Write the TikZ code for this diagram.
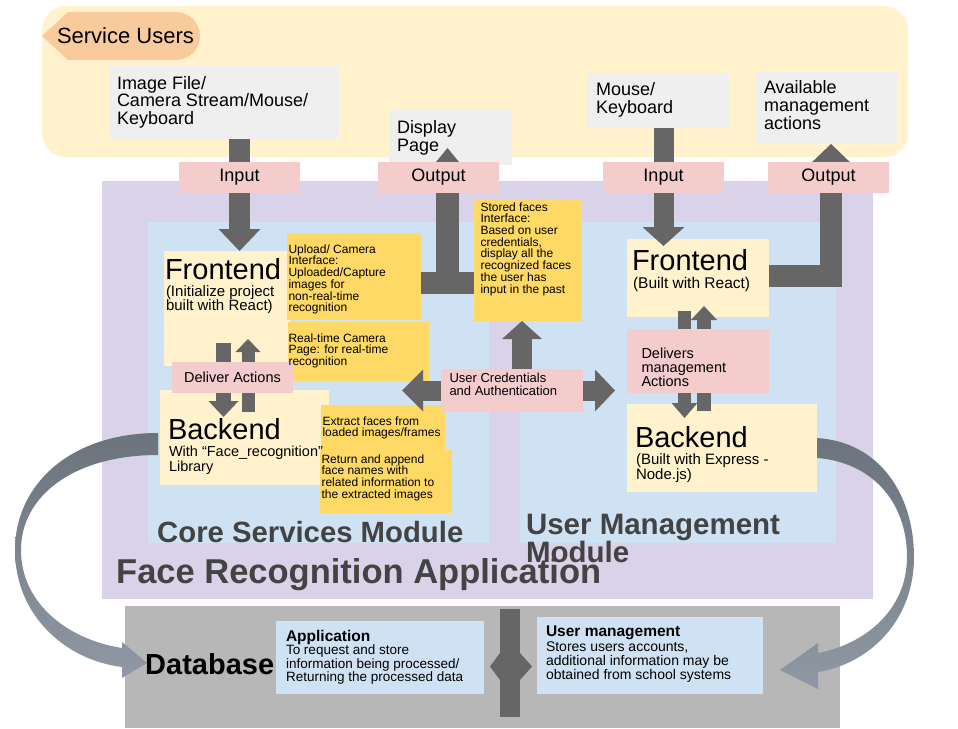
\documentclass[tikz,border=0pt]{standalone}
\usepackage{fontspec}
\setmainfont{Liberation Sans}
\usetikzlibrary{arrows.meta,calc}
\pgfdeclarelayer{bg}
\pgfdeclarelayer{mid}
\pgfsetlayers{bg,mid,main}
\definecolor{cCont}{HTML}{FFF2CC}
\definecolor{cTag}{HTML}{F9CB9C}
\definecolor{cGray}{HTML}{EFEFEF}
\definecolor{cPurple}{HTML}{D9D2E9}
\definecolor{cBlue}{HTML}{CFE2F3}
\definecolor{cPink}{HTML}{F4CCCC}
\definecolor{cLight}{HTML}{FFF2CC}
\definecolor{cGold}{HTML}{FFD966}
\definecolor{cDark}{HTML}{666666}
\definecolor{cDB}{HTML}{B7B7B7}
\definecolor{cTitle}{HTML}{434343}
\definecolor{cCurveA}{HTML}{6B737D}
\definecolor{cCurveB}{HTML}{8F98A4}
\newcommand\fsz[2]{\fontsize{#1}{#2}\selectfont}
\newcommand\bx[7]{\node[#2,anchor=north west,inner sep=0pt,outer sep=0pt,minimum width=#5pt,minimum height=#6pt] (#1) at (#3,#4) {#7};}
\begin{document}
\begin{tikzpicture}[x=1pt,y=-1pt,
  tx/.style={anchor=north west,inner sep=0pt,outer sep=0pt,align=left},
  lbl/.style={fill=cPink,font=\fsz{18}{20}},
  blk/.style={draw=cDark,line width=#1},
  curve/.style={top color=cCurveA,bottom color=cCurveB,draw=none}]
\useasboundingbox (0,0) rectangle (958,728);

% ---------- background boxes ----------
\begin{pgfonlayer}{bg}
\node[fill=cCont,rounded corners=24pt,anchor=north west,inner sep=0pt,minimum width=866pt,minimum height=151pt] (users) at (42,6) {};
\fill[cTag] (42,36) -- (68,12) -- (176,12) arc[start angle=-90,end angle=90,radius=24] -- (68,60) -- cycle;
\bx{imgbox}{fill=cGray}{109}{66}{230}{73}{}
\bx{dispbox}{fill=cGray}{389}{110}{123}{55}{}
\bx{mousebox}{fill=cGray}{587}{73}{142}{55}{}
\bx{availbox}{fill=cGray}{756}{71}{141}{73}{}
\bx{appl}{fill=cPurple}{102}{181}{771}{418}{}
\bx{core}{fill=cBlue}{148}{222}{341}{321}{}
\bx{umod}{fill=cBlue}{520}{222}{316}{321}{}
\bx{feL}{fill=cLight}{164}{251}{126}{115}{}
\bx{beL}{fill=cLight}{160}{390}{169}{95}{}
\bx{feR}{fill=cLight}{627}{239}{142}{78}{}
\bx{beR}{fill=cLight}{627}{404}{190}{88}{}
\bx{upl}{fill=cGold}{287}{233}{134}{87}{}
\bx{rtc}{fill=cGold}{288}{322}{141}{59}{}
\bx{stored}{fill=cGold}{474}{199}{108}{122}{}
\bx{extr}{fill=cGold}{321}{405}{124}{45}{}
\bx{retn}{fill=cGold}{320}{450}{132}{63}{}
\bx{db}{fill=cDB}{125}{606}{715}{122}{}
\bx{dbapp}{fill=cBlue}{276}{621}{208}{73}{}
\bx{dbum}{fill=cBlue}{537}{617}{226}{77}{}
\bx{dbbar}{fill=cDark}{500}{609}{20}{108}{}
\end{pgfonlayer}

% ---------- pink labels ----------
\bx{inL}{lbl}{179}{162}{121}{31}{Input}
\bx{outL}{lbl}{378}{162}{121}{31}{Output}
\bx{inR}{lbl}{603}{162}{121}{31}{Input}
\bx{outR}{lbl}{768}{162}{121}{31}{Output}
\bx{deliv}{fill=cPink,font=\fsz{14.5}{16}}{172}{362}{121}{31}{Deliver Actions}
\bx{cred}{fill=cPink}{441}{369}{142}{43}{}
\bx{delm}{fill=cPink}{627}{329}{142}{64}{}

% ---------- coordinates ----------
\coordinate (loY) at (0,283);
\coordinate (loBase) at (447.5,294);
\coordinate (dispTip) at (447.5,148);
\coordinate (roC) at (831,276);
\coordinate (dAtop) at (223.5,343);
\coordinate (dAbot) at (223.5,417);
\coordinate (uAbot) at (248,412);
\coordinate (uAtop) at (248,339);
\coordinate (dMtop) at (684.5,311);
\coordinate (dMbot) at (684.5,418);
\coordinate (uMbot) at (704,411);
\coordinate (uMtop) at (704,306);
\coordinate (upX) at (522,0);
\coordinate (credL) at (402,390.5);
\coordinate (credR) at (615,390.5);

% ---------- arrows ----------
\begin{pgfonlayer}{mid}
\draw[blk=21pt,-{Triangle[width=42pt,length=22pt,line width=0pt]}] (imgbox.south -| inL.center) -- (feL.north -| inL.center);
\draw[blk=20pt,-{Triangle[width=42pt,length=19pt,line width=0pt]}] (mousebox.south -| inR.center) -- ($(feR.north -| inR.center)+(0,7)$);
\draw[blk=22pt] (upl.east |- loY) -- (stored.west |- loY);
\draw[blk=23pt,-{Triangle[width=46pt,length=28pt,line width=0pt]}] (loBase) -- (dispTip);
\draw[blk=22pt,line join=miter,-{Triangle[width=44pt,length=21pt,line width=0pt]}] (feR.east |- roC) -- (roC) -- (availbox.south -| roC);
\draw[blk=15pt,-{Triangle[width=30pt,length=16pt,line width=0pt]}] (dAtop) -- (dAbot);
\draw[blk=13pt,-{Triangle[width=25pt,length=13pt,line width=0pt]}] (uAbot) -- (uAtop);
\draw[blk=13pt,-{Triangle[width=26pt,length=15pt,line width=0pt]}] (dMtop) -- (dMbot);
\draw[blk=14pt,-{Triangle[width=26pt,length=14pt,line width=0pt]}] (uMbot) -- (uMtop);
\draw[blk=20pt,-{Triangle[width=40pt,length=18pt,line width=0pt]}] (cred.north -| upX) -- (stored.south -| upX);
\draw[blk=20pt,-{Triangle[width=42pt,length=21pt,line width=0pt]}] (cred.west) -- (credL);
\draw[blk=20pt,-{Triangle[width=42pt,length=20pt,line width=0pt]}] (cred.east) -- (credR);
% database double arrow
\fill[cDark] (490,666.5) -- (500,653) -- (520,653) -- (532,666.5) -- (520,680) -- (500,680) -- cycle;
% curved arrows
\path[curve] (158,433) .. controls (70,433) and (15,485) .. (15,550)
  .. controls (15,615) and (65,660) .. (122,667) -- (122,678) -- (147,663) -- (122,642) -- (122,648)
  .. controls (70,640) and (21,605) .. (21,550) .. controls (21,495) and (75,455) .. (158,455) -- cycle;
\path[curve] (817,438) .. controls (880,442) and (914,495) .. (914,557)
  .. controls (914,622) and (868,664) .. (818,672) -- (818,689) -- (780,670) -- (818,643) -- (818,653)
  .. controls (862,645) and (907,612) .. (907,557) .. controls (907,500) and (870,462) .. (817,458) -- cycle;
\end{pgfonlayer}

% ---------- texts ----------
\node[tx,font=\fsz{22}{26},anchor=west] (tUsers) at (57,36) {Service Users};
\node[tx,font=\fsz{18}{17.5}] (tImg) at (117,76) {Image File/\\Camera Stream/Mouse/\\Keyboard};
\node[tx,font=\fsz{18}{18}] (tDisp) at (397,120.5) {Display\\Page};
\node[tx,font=\fsz{18}{18.3}] (tMouse) at (596,82.5) {Mouse/\\Keyboard};
\node[tx,font=\fsz{18}{18}] (tAvail) at (764,80.5) {Available\\management\\actions};

\node[tx,font=\fsz{29}{30}] (tFeL) at (165,258.5) {Frontend};
\node[tx,font=\fsz{15}{14}] (tFeLs) at (166,286) {(Initialize project\\built with React)};
\node[tx,font=\fsz{29}{30}] (tBeL) at (168,418.5) {Backend};
\node[tx,font=\fsz{14.5}{13}] (tBeLs) at (169,446) {With “Face\_recognition”\\Library};
\node[tx,font=\fsz{29}{30}] (tFeR) at (632,249.5) {Frontend};
\node[tx,font=\fsz{15.5}{15}] (tFeRs) at (633,277) {(Built with React)};
\node[tx,font=\fsz{29}{30}] (tBeR) at (635,426.5) {Backend};
\node[tx,font=\fsz{15}{15}] (tBeRs) at (636,453.5) {(Built with Express -\\Node.js)};

\node[tx,font=\fsz{12}{11.7}] (tUpl) at (288.5,244.5) {Upload/ Camera\\Interface:\\Uploaded/Capture\\images for\\non-real-time\\recognition};
\node[tx,font=\fsz{12}{11.7}] (tRtc) at (288.5,333.5) {Real-time Camera\\Page: for real-time\\recognition};
\node[tx,font=\fsz{12}{11.7}] (tSto) at (480.5,202.5) {Stored faces\\Interface:\\Based on user\\credentials,\\display all the\\recognized faces\\the user has\\input in the past};
\node[tx,font=\fsz{12}{11.7}] (tExt) at (322.5,416.5) {Extract faces from\\loaded images/frames};
\node[tx,font=\fsz{12}{11.7}] (tRet) at (321.5,454.5) {Return and append\\face names with\\related information to\\the extracted images};

\node[tx,font=\fsz{13}{12.7}] (tCred) at (449.5,373.5) {User Credentials\\and Authentication};
\node[tx,font=\fsz{14.5}{14}] (tDelm) at (641.5,347.5) {Delivers\\management\\Actions};

\node[anchor=base west,inner sep=0pt,text=cTitle,font=\bfseries\fsz{29.3}{30}] (tCore) at (157,542) {Core Services Module};
\node[tx,text=cTitle,font=\bfseries\fsz{29.5}{28}] (tUM) at (526,514) {User Management\\Module};
\node[anchor=base west,inner sep=0pt,text=cTitle,font=\bfseries\fsz{34.5}{36}] (tFRA) at (116,583) {Face Recognition Application};

\node[anchor=west,inner sep=0pt,font=\bfseries\fsz{29}{30}] (tDB) at (145,664) {Database};
\node[tx,font=\bfseries\fsz{15.5}{16}] (tAppT) at (286,630) {Application};
\node[tx,font=\fsz{13.5}{13.5}] (tAppB) at (286,645) {To request and store\\information being processed/\\Returning the processed data};
\node[tx,font=\bfseries\fsz{15.5}{16}] (tUmT) at (546,626) {User management};
\node[tx,font=\fsz{14}{14}] (tUmB) at (546,642) {Stores users accounts,\\additional information may be\\obtained from school systems};
\end{tikzpicture}
\end{document}
